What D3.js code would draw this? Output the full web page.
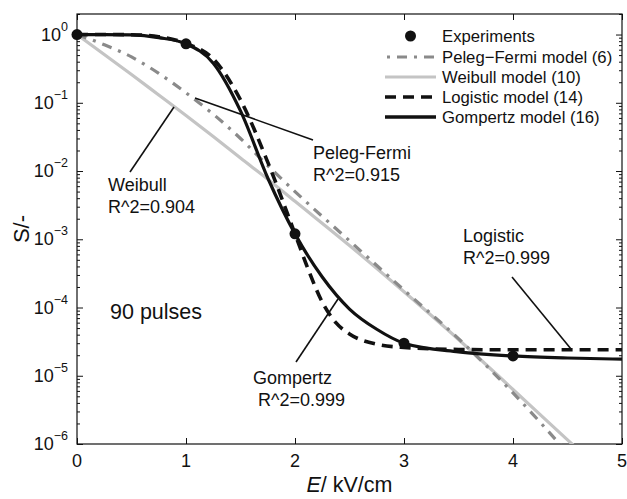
<!DOCTYPE html>
<html>
<head>
<meta charset="utf-8">
<script src="https://cdn.jsdelivr.net/npm/d3@7"></script>
<style>
  body { margin: 0; background: #fff; }
  text { font-family: "Liberation Sans", Arial, sans-serif; fill: #111; }
</style>
</head>
<body>
<svg id="chart" width="627" height="499"></svg>
<script>
// Measured survival ratios, 90 pulses
const expE = [0, 1, 2, 3, 4];
const expS = [1.0, 0.73, 1.2e-3, 3.0e-5, 1.95e-5];

// Peleg-Fermi model (6)
const pelegE = [0, 0.25, 0.5, 0.75, 1.0, 1.25, 1.5, 1.75, 2.0, 2.5, 3.0, 3.5, 4.0, 4.5];
const pelegS = [1.0, 0.71, 0.47, 0.27, 0.14, 0.068, 0.030, 0.012, 5.0e-3, 9.5e-4, 1.8e-4, 3.5e-5, 5.6e-6, 7.4e-7];

// Weibull model (10)
const weibullE = [0, 0.25, 0.5, 0.75, 1.0, 1.25, 1.5, 1.75, 2.0, 2.5, 3.0, 3.5, 4.0, 4.5, 4.75];
const weibullS = [1.0, 0.51, 0.26, 0.13, 0.065, 0.032, 0.0155, 7.6e-3, 3.6e-3, 8.1e-4, 1.7e-4, 3.4e-5, 6.3e-6, 1.15e-6, 5.0e-7];

// Logistic model (14)
const logisticE = [0, 0.25, 0.5, 0.75, 1.0, 1.25, 1.5, 1.75, 2.0, 2.125, 2.25, 2.375, 2.5, 2.75, 3.0, 3.5, 4.0, 4.5, 5.0];
const logisticS = [1.0, 1.0, 0.993, 0.93, 0.74, 0.44, 0.11, 0.0135, 1.2e-3, 3.5e-4, 1.2e-4, 6.0e-5, 4.1e-5, 2.9e-5, 2.6e-5, 2.43e-5, 2.4e-5, 2.4e-5, 2.4e-5];

// Gompertz model (16)
const gompertzE = [0, 0.25, 0.5, 0.75, 1.0, 1.25, 1.5, 1.75, 2.0, 2.25, 2.5, 2.75, 3.0, 3.5, 4.0, 4.5, 5.0];
const gompertzS = [1.0, 1.0, 0.99, 0.9, 0.73, 0.38, 0.076, 7.9e-3, 1.2e-3, 2.8e-4, 9.5e-5, 4.8e-5, 3.0e-5, 2.24e-5, 1.95e-5, 1.82e-5, 1.75e-5];

const xTicks = [0, 1, 2, 3, 4, 5];
const yTickExponents = [0, -1, -2, -3, -4, -5, -6];

const legendLabels = ["Experiments", "Peleg\u2212Fermi model (6)", "Weibull model (10)", "Logistic model (14)", "Gompertz model (16)"];

// Text annotations: label lines, and the leader line pointing at each curve
const annotations = [
  { lines: ["Weibull", "R^2=0.904"], tx: 108, ty: 185, from: [130, 172], to: [174, 107] },
  { lines: ["Peleg-Fermi", "R^2=0.915"], tx: 313, ty: 153, from: [313, 140], to: [195, 98] },
  { lines: ["Gompertz", " R^2=0.999"], tx: 253, ty: 378, from: [296, 362], to: [338, 299] },
  { lines: ["Logistic", "R^2=0.999"], tx: 463, ty: 236, from: [512, 277], to: [571, 349] }
];

const plot = { left: 77, right: 622, top: 14, bottom: 444 };

const svg = d3.select("#chart");

const x = d3.scaleLinear().domain([0, 5]).range([plot.left, plot.right]);
const y = d3.scaleLog().domain([1e-6, 2]).range([plot.bottom, plot.top]);

svg.append("defs").append("clipPath").attr("id", "plotClip")
  .append("rect")
  .attr("x", plot.left).attr("y", plot.top)
  .attr("width", plot.right - plot.left).attr("height", plot.bottom - plot.top);

// Axes (ticks pointing inward on all four sides)
const majorLen = 6, minorLen = 3;
const minorVals = [];
for (let e = -6; e <= 0; e++) {
  for (let m = 2; m <= 9; m++) {
    const v = m * Math.pow(10, e);
    if (v <= 2) minorVals.push(v);
  }
}
const majorVals = yTickExponents.map(e => Math.pow(10, e));

const axisLeftMajor = d3.axisLeft(y).tickValues(majorVals).tickSizeInner(-majorLen).tickSizeOuter(0).tickFormat("");
const axisLeftMinor = d3.axisLeft(y).tickValues(minorVals).tickSizeInner(-minorLen).tickSizeOuter(0).tickFormat("");
const axisRightMajor = d3.axisRight(y).tickValues(majorVals).tickSizeInner(-majorLen).tickSizeOuter(0).tickFormat("");
const axisRightMinor = d3.axisRight(y).tickValues(minorVals).tickSizeInner(-minorLen).tickSizeOuter(0).tickFormat("");
const axisBottom = d3.axisBottom(x).tickValues(xTicks).tickSizeInner(-majorLen).tickSizeOuter(0).tickFormat("");
const axisTop = d3.axisTop(x).tickValues(xTicks).tickSizeInner(-majorLen).tickSizeOuter(0).tickFormat("");

function styleAxis(g) {
  g.select(".domain").remove();
  g.selectAll("line").attr("stroke", "#111").attr("stroke-width", 1);
}
svg.append("g").attr("transform", `translate(${plot.left},0)`).call(axisLeftMajor).call(styleAxis);
svg.append("g").attr("transform", `translate(${plot.left},0)`).call(axisLeftMinor).call(styleAxis);
svg.append("g").attr("transform", `translate(${plot.right},0)`).call(axisRightMajor).call(styleAxis);
svg.append("g").attr("transform", `translate(${plot.right},0)`).call(axisRightMinor).call(styleAxis);
svg.append("g").attr("transform", `translate(0,${plot.bottom})`).call(axisBottom).call(styleAxis);
svg.append("g").attr("transform", `translate(0,${plot.top})`).call(axisTop).call(styleAxis);

svg.append("rect")
  .attr("x", plot.left).attr("y", plot.top)
  .attr("width", plot.right - plot.left).attr("height", plot.bottom - plot.top)
  .attr("fill", "none").attr("stroke", "#111").attr("stroke-width", 1.2);

// Tick labels
svg.append("g").selectAll("text").data(xTicks).join("text")
  .attr("x", d => x(d)).attr("y", plot.bottom + 17)
  .attr("text-anchor", "middle").attr("dominant-baseline", "central")
  .attr("font-size", 18).text(d => d);

const yLab = svg.append("g").selectAll("text").data(yTickExponents).join("text")
  .attr("x", plot.left - 9).attr("y", d => y(Math.pow(10, d)))
  .attr("text-anchor", "end").attr("dominant-baseline", "central")
  .attr("font-size", 18);
yLab.append("tspan").text("10");
yLab.append("tspan").attr("dy", -8).attr("font-size", 12.5).text(d => d === 0 ? "0" : "\u2212" + (-d));

// Axis titles
const xt = svg.append("text").attr("x", (plot.left + plot.right) / 2).attr("y", 485)
  .attr("text-anchor", "middle").attr("dominant-baseline", "central").attr("font-size", 21.5);
xt.append("tspan").attr("font-style", "italic").text("E");
xt.append("tspan").text("/ kV/cm");

svg.append("text")
  .attr("transform", `translate(21,${(plot.top + plot.bottom) / 2}) rotate(-90)`)
  .attr("text-anchor", "middle").attr("dominant-baseline", "central")
  .attr("font-size", 22).text("S/-");

// Model curves
const toPts = (es, ss) => es.map((e, i) => [e, ss[i]]);
const line = d3.line().x(d => x(d[0])).y(d => y(d[1])).curve(d3.curveMonotoneX);
const curves = svg.append("g").attr("clip-path", "url(#plotClip)");

const series = [
  { pts: toPts(weibullE, weibullS), color: "#c4c4c4", width: 3.2, dash: null },
  { pts: toPts(pelegE, pelegS), color: "#8a8a8a", width: 3.2, dash: "10,7,3,7" },
  { pts: toPts(gompertzE, gompertzS), color: "#111", width: 3.2, dash: null },
  { pts: toPts(logisticE, logisticS), color: "#111", width: 3.6, dash: "11,7" }
];
series.forEach(s => {
  curves.append("path").attr("d", line(s.pts))
    .attr("fill", "none").attr("stroke", s.color).attr("stroke-width", s.width)
    .attr("stroke-dasharray", s.dash);
});

svg.append("g").selectAll("circle").data(toPts(expE, expS)).join("circle")
  .attr("cx", d => x(d[0])).attr("cy", d => y(d[1])).attr("r", 5.5).attr("fill", "#111");

// Annotations
annotations.forEach(a => {
  svg.append("line")
    .attr("x1", a.from[0]).attr("y1", a.from[1]).attr("x2", a.to[0]).attr("y2", a.to[1])
    .attr("stroke", "#111").attr("stroke-width", 1.6);
  a.lines.forEach((t, i) => {
    svg.append("text").attr("x", a.tx).attr("y", a.ty + i * 22)
      .attr("dominant-baseline", "central").attr("font-size", 18)
      .attr("xml:space", "preserve").style("white-space", "pre").text(t);
  });
});

svg.append("text").attr("x", 110).attr("y", 312)
  .attr("dominant-baseline", "central").attr("font-size", 21.5).text("90 pulses");

// Legend
const legendRowsY = [36, 57, 77, 97, 117];
const legendStyles = [
  { kind: "dot" },
  { kind: "line", color: "#8a8a8a", width: 3.2, dash: "10,7,3,7", offset: -12 },
  { kind: "line", color: "#c4c4c4", width: 3.2, dash: null },
  { kind: "line", color: "#111", width: 3.6, dash: "11,7", offset: 0 },
  { kind: "line", color: "#111", width: 3.6, dash: null }
];
const lx0 = 385, lx1 = 436, ltx = 442;
legendLabels.forEach((lab, i) => {
  const st = legendStyles[i], ly = legendRowsY[i];
  if (st.kind === "dot") {
    svg.append("circle").attr("cx", (lx0 + lx1) / 2).attr("cy", ly).attr("r", 5.5).attr("fill", "#111");
  } else {
    svg.append("line").attr("x1", lx0).attr("x2", lx1).attr("y1", ly).attr("y2", ly)
      .attr("stroke", st.color).attr("stroke-width", st.width)
      .attr("stroke-dasharray", st.dash).attr("stroke-dashoffset", st.offset || 0);
  }
  svg.append("text").attr("x", ltx).attr("y", ly).attr("dominant-baseline", "central")
    .attr("font-size", 16.7).text(lab);
});
</script>
</body>
</html>
